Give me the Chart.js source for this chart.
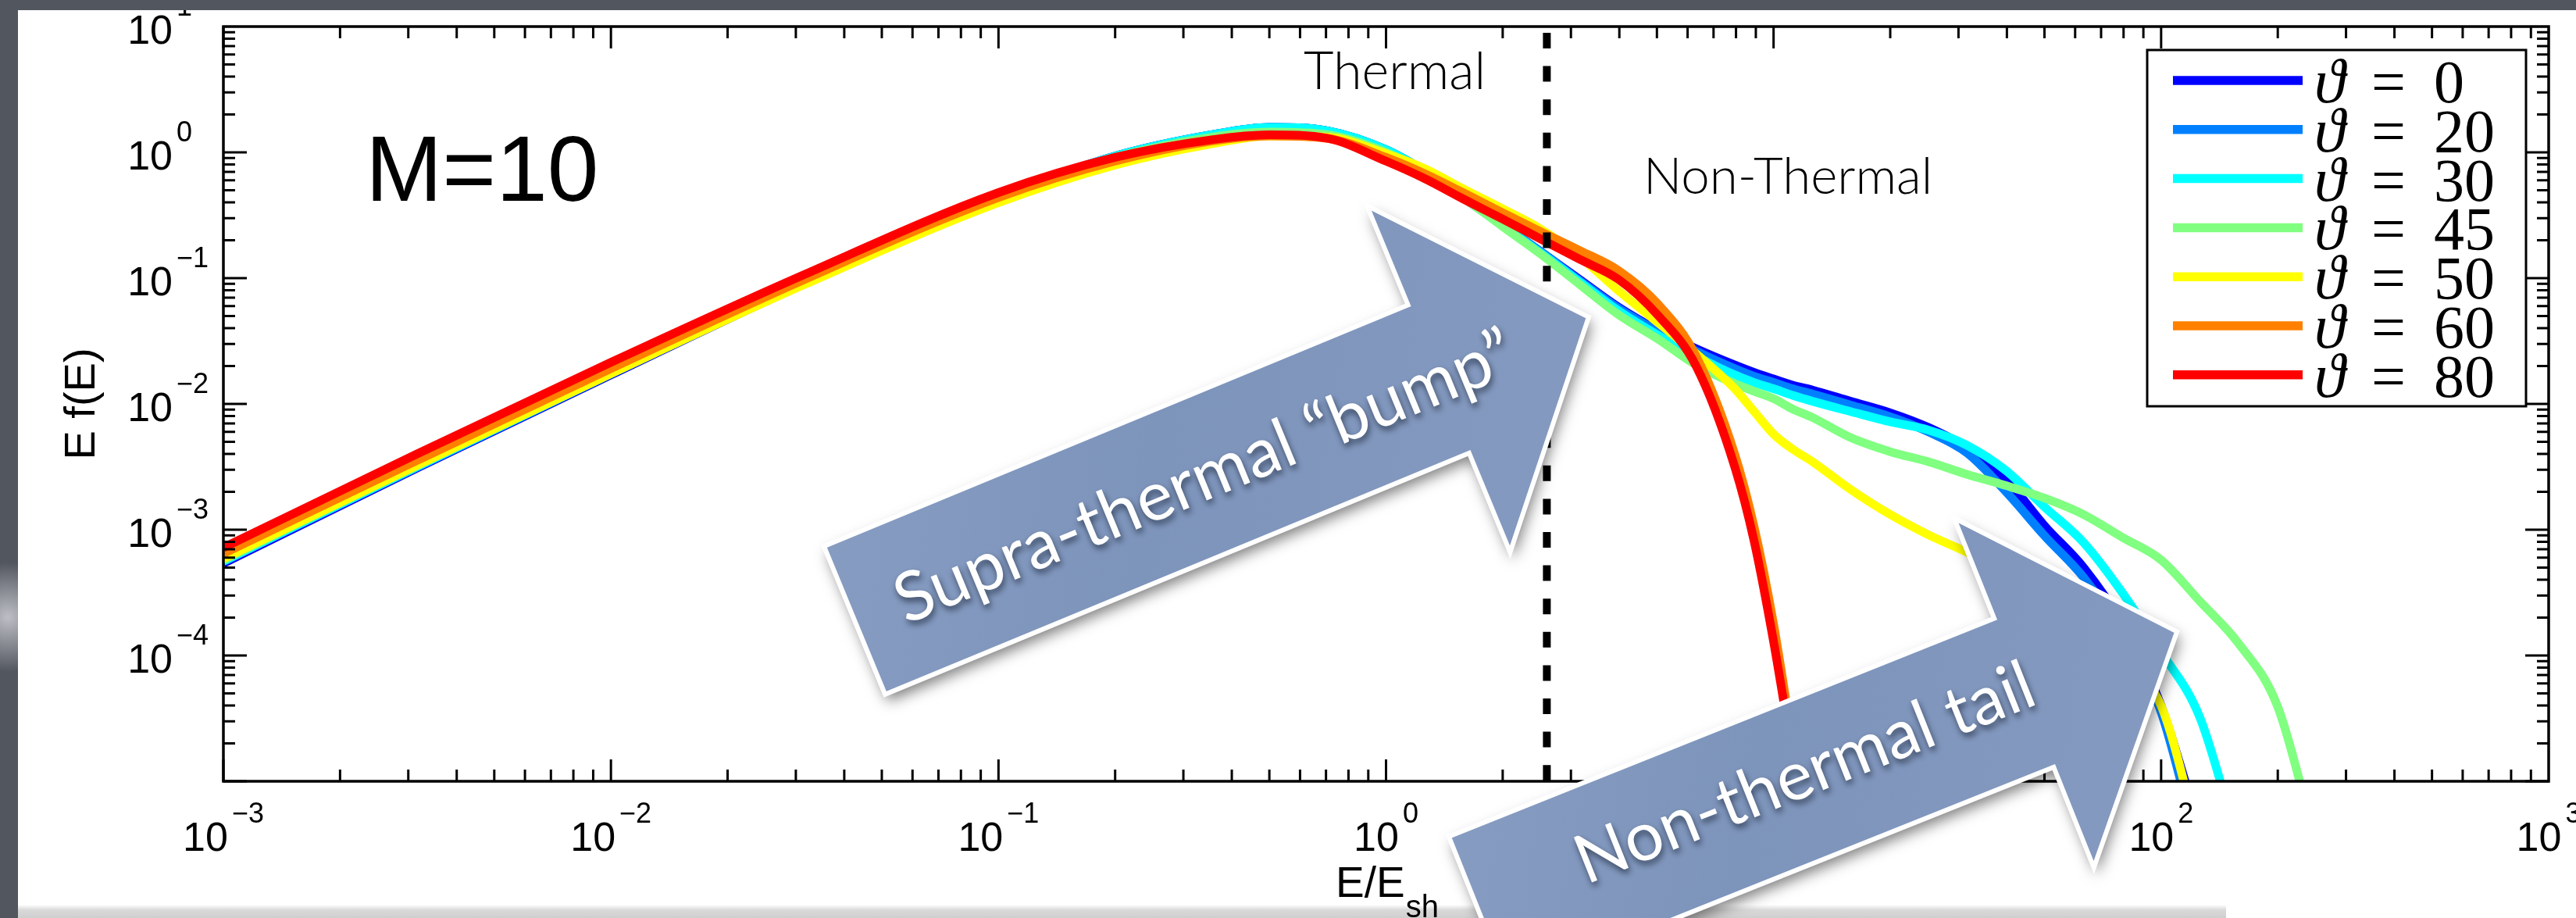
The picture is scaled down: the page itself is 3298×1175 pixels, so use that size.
<!DOCTYPE html>
<html>
<head>
<meta charset="utf-8">
<script src="https://cdn.jsdelivr.net/npm/chart.js@4/dist/chart.umd.min.js"></script>
<style>
  html, body { margin: 0; padding: 0; background: #51555f; }
  #wrap { position: relative; width: 3298px; height: 1175px; }
</style>
</head>
<body>
<div id="wrap"><canvas id="spectrum"></canvas></div>
<script>
// E/E_sh sample points shared by every curve
var energy = [0.001, 0.00316, 0.01, 0.0316, 0.1, 0.2, 0.355, 0.501, 0.708, 1, 1.26, 1.58, 2.0, 2.51, 3.16, 3.98, 5.01, 6.31, 7.94, 8.91,
              10, 11.2, 12.6, 15.8, 20, 25.1, 31.6, 39.8, 50.1, 63.1, 79.4, 100, 126, 158, 200, 251];

// E f(E) for each shock obliquity
var theta0  = [5.4e-4, 3.09e-3, 1.7e-2, 0.0912, 0.437, 0.933, 1.38, 1.58, 1.48, 1.05, 0.708, 0.437, 0.263, 0.162, 0.0977, 0.0589, 0.0389, 0.0275, 0.0204, 0.0178,
               0.0158, 0.0141, 0.0129, 0.0105, 8.5e-3, 6.5e-3, 4.47e-3, 2.51e-3, 1.07e-3, 5.0e-4, 1.78e-4, 3.98e-5, 4.0e-6, null, null, null];
var theta20 = [5.6e-4, 3.16e-3, 1.74e-2, 0.0912, 0.437, 0.933, 1.38, 1.58, 1.48, 1.05, 0.708, 0.437, 0.263, 0.162, 0.0955, 0.0575, 0.038, 0.0263, 0.0191, 0.0166,
               0.0148, 0.0132, 0.012, 9.8e-3, 7.9e-3, 6.0e-3, 4.07e-3, 2.0e-3, 8.9e-4, 4.17e-4, 1.51e-4, 3.55e-5, 2.5e-6, null, null, null];
var theta30 = [5.6e-4, 3.16e-3, 1.74e-2, 0.0912, 0.437, 0.933, 1.38, 1.58, 1.48, 1.05, 0.708, 0.437, 0.263, 0.158, 0.0933, 0.055, 0.0355, 0.024, 0.017, 0.0148,
               0.0132, 0.0117, 0.0105, 8.7e-3, 7.2e-3, 6.2e-3, 4.68e-3, 2.95e-3, 1.51e-3, 7.9e-4, 3.16e-4, 1.07e-4, 3.2e-5, 3.2e-6, null, null];
var theta45 = [5.75e-4, 3.24e-3, 1.78e-2, 0.0933, 0.437, 0.912, 1.32, 1.45, 1.38, 1.0, 0.692, 0.437, 0.257, 0.155, 0.0891, 0.0513, 0.0331, 0.0204, 0.0145, 0.0126,
               0.011, 9.1e-3, 7.8e-3, 5.4e-3, 4.17e-3, 3.47e-3, 2.75e-3, 2.24e-3, 1.78e-3, 1.32e-3, 8.7e-4, 5.75e-4, 2.69e-4, 1.26e-4, 3.9e-5, 3.2e-6];
var theta50 = [5.89e-4, 3.24e-3, 1.74e-2, 0.0891, 0.398, 0.794, 1.17, 1.35, 1.32, 0.977, 0.741, 0.513, 0.355, 0.245, 0.148, 0.0794, 0.0447, 0.0251, 0.0132, 8.7e-3,
               5.75e-3, 4.37e-3, 3.47e-3, 2.09e-3, 1.32e-3, 9.1e-4, 6.6e-4, 4.47e-4, 2.82e-4, 1.66e-4, 8.9e-5, 3.98e-5, 3.2e-6, null, null, null];
var theta60 = [6.46e-4, 3.55e-3, 1.91e-2, 0.0977, 0.437, 0.851, 1.23, 1.35, 1.29, 0.912, 0.676, 0.479, 0.331, 0.234, 0.166, 0.115, 0.0631, 0.024, 3.98e-3, 1.05e-3,
               1.78e-4, 2.0e-5, 2.0e-6, null, null, null, null, null, null, null, null, null, null, null, null, null];
var theta80 = [7.2e-4, 4.0e-3, 0.0214, 0.107, 0.479, 0.912, 1.26, 1.38, 1.29, 0.851, 0.617, 0.427, 0.295, 0.204, 0.141, 0.0977, 0.0513, 0.02, 3.16e-3, 8.1e-4,
               1.29e-4, 1.6e-5, 2.0e-6, null, null, null, null, null, null, null, null, null, null, null, null, null];

var angles = ['0', '20', '30', '45', '50', '60', '80'];
var thermalCut = 2.6;   // Thermal / Non-Thermal boundary, E/E_sh

var xTicks = [1e-3, 1e-2, 1e-1, 1, 10, 100, 1000];
var yTicks = [1e-4, 1e-3, 1e-2, 1e-1, 1, 10];

var colours = ['#0000ff', '#0080ff', '#00ffff', '#80ff80', '#ffff00', '#ff8000', '#ff0000'];
var series = [theta0, theta20, theta30, theta45, theta50, theta60, theta80];

var SANS = '"Liberation Sans", Arial, Helvetica, sans-serif';
var SERIF = '"Liberation Serif", "DejaVu Serif", serif';

var datasets = [];
for (var i = 0; i < series.length; i++) {
	datasets.push({
		label: 'ϑ = ' + angles[i],
		data: series[i],
		borderColor: colours[i],
		borderWidth: 11,
		pointRadius: 0,
		fill: false,
		cubicInterpolationMode: 'monotone',
		order: series.length - 1 - i
	});
}
datasets.push({
	label: '',
	data: [{x: thermalCut, y: 10}, {x: thermalCut, y: 1e-5}],
	borderColor: '#000',
	borderWidth: 10,
	borderDash: [20, 22.6],
	borderDashOffset: 34.6,
	pointRadius: 0,
	fill: false,
	order: -1
});

// slide background: dark frame, white panel, grey strip at the bottom
var backdrop = {
	id: 'backdrop',
	beforeDraw: function(chart) {
		var ctx = chart.ctx, w = chart.width, h = chart.height;
		ctx.save();
		ctx.fillStyle = '#52565f';
		ctx.fillRect(0, 0, w, h);
		var glow = ctx.createRadialGradient(10, 790, 0, 10, 790, 70);
		glow.addColorStop(0, 'rgba(235,235,240,0.7)');
		glow.addColorStop(1, 'rgba(235,235,240,0)');
		ctx.fillStyle = glow;
		ctx.fillRect(0, 700, 60, 180);
		ctx.fillStyle = '#ffffff';
		ctx.fillRect(23, 13, w - 23, h - 13);
		var g = ctx.createLinearGradient(0, 1158, 0, 1175);
		g.addColorStop(0, 'rgba(215,215,215,0)');
		g.addColorStop(0.4, '#d9d9d9');
		g.addColorStop(1, '#cfcfcf');
		ctx.fillStyle = g;
		ctx.fillRect(23, 1158, 2827, 17);
		ctx.restore();
	}
};

function drawPower(ctx, exp, x, y, expY, align) {
	var expTxt = exp < 0 ? '\u2212' + (-exp) : String(exp);
	ctx.textAlign = 'left';
	ctx.textBaseline = 'alphabetic';
	ctx.font = '52px ' + SANS;
	var bw = ctx.measureText('10').width;
	ctx.font = '36px ' + SANS;
	var ew = ctx.measureText(expTxt).width;
	var left;
	if (align === 'center') left = x - (bw + 5 + ew) / 2;
	else left = x - bw;
	ctx.font = '52px ' + SANS;
	ctx.fillText('10', left, y);
	ctx.font = '36px ' + SANS;
	ctx.fillText(expTxt, left + bw + 5, expY);
}

function fitText(ctx, txt, x, y, width, weight, family) {
	ctx.font = weight + ' 64px ' + family;
	var w = ctx.measureText(txt).width;
	var size = 64 * width / w;
	ctx.font = weight + ' ' + size.toFixed(1) + 'px ' + family;
	ctx.fillText(txt, x, y);
}

var axesAndText = {
	id: 'axesAndText',
	afterDatasetsDraw: function(chart) {
		var ctx = chart.ctx, a = chart.chartArea, xs = chart.scales.x, ys = chart.scales.y;
		ctx.save();
		ctx.beginPath();
		ctx.rect(23, 13, chart.width - 23, chart.height - 13);
		ctx.clip();
		ctx.fillStyle = '#000';
		ctx.strokeStyle = '#000';

		// minor and major ticks on all four sides
		ctx.lineWidth = 3;
		ctx.beginPath();
		var k, m, v, p, len;
		for (k = -3; k < 3; k++) {
			for (m = 1; m < 10; m++) {
				v = m * Math.pow(10, k);
				p = xs.getPixelForValue(v);
				len = m === 1 ? 28 : 15;
				ctx.moveTo(p, a.bottom); ctx.lineTo(p, a.bottom - len);
				ctx.moveTo(p, a.top); ctx.lineTo(p, a.top + len);
			}
		}
		for (k = -5; k < 1; k++) {
			for (m = 1; m < 10; m++) {
				v = m * Math.pow(10, k);
				p = ys.getPixelForValue(v);
				len = m === 1 ? 30 : 15;
				ctx.moveTo(a.left, p); ctx.lineTo(a.left + len, p);
				ctx.moveTo(a.right, p); ctx.lineTo(a.right - len, p);
			}
		}
		ctx.stroke();
		ctx.lineWidth = 3.5;
		ctx.strokeRect(a.left, a.top, a.right - a.left, a.bottom - a.top);

		// tick labels
		xTicks.forEach(function(t) {
			var e = Math.round(Math.log10(t));
			drawPower(ctx, e, xs.getPixelForValue(t), 1089, 1053, 'center');
		});
		yTicks.forEach(function(t) {
			var e = Math.round(Math.log10(t));
			var py = ys.getPixelForValue(t);
			drawPower(ctx, e, 221, py + 22, py - 14, 'right');
		});

		// axis titles
		ctx.textAlign = 'left';
		ctx.font = '55px ' + SANS;
		ctx.fillText('E/E', 1710, 1148);
		var ew = ctx.measureText('E/E').width;
		ctx.font = '40px ' + SANS;
		ctx.fillText('sh', 1710 + ew + 1, 1174);
		ctx.save();
		ctx.translate(121, (a.top + a.bottom) / 2);
		ctx.rotate(-Math.PI / 2);
		ctx.textAlign = 'center';
		ctx.font = '56px ' + SANS;
		ctx.fillText('E f(E)', 0, 0);
		ctx.restore();

		// annotations
		ctx.textAlign = 'left';
		ctx.font = '118px ' + SANS;
		ctx.fillText('M=10', 468, 257);
		fitText(ctx, 'Thermal', 1669, 114, 233, '300', 'Lato, "Open Sans", sans-serif');
		fitText(ctx, 'Non-Thermal', 2104, 248, 370, '300', 'Lato, "Open Sans", sans-serif');

		// legend
		var bx = 2749, by = 64, bw = 485, bh = 456;
		ctx.fillStyle = '#fff';
		ctx.fillRect(bx, by, bw, bh);
		ctx.lineWidth = 3;
		ctx.strokeRect(bx, by, bw, bh);
		for (var i = 0; i < angles.length; i++) {
			var ry = 103 + i * 62.8;
			ctx.strokeStyle = colours[i];
			ctx.lineWidth = 11.5;
			ctx.beginPath();
			ctx.moveTo(2782, ry); ctx.lineTo(2948, ry);
			ctx.stroke();
			ctx.fillStyle = '#000';
			ctx.textAlign = 'left';
			ctx.font = 'italic 80px ' + SERIF;
			ctx.fillText('ϑ', 2963, ry + 28);
			ctx.font = '78px ' + SERIF;
			ctx.fillText('=', 3036, ry + 28);
			ctx.fillText(angles[i], 3116, ry + 28);
		}
		ctx.restore();
	}
};

// the two block arrows pasted over the figure
var arrows = [
	{x: 1094, y: 794, angle: -22.44, len: 809, shaft: 205, head: 480, tip: 208, text: 'Supra-thermal \u201cbump\u201d', textAt: 484, textOff: 2, textWidth: 850},
	{x: 1893, y: 1166, angle: -21.8, len: 752, shaft: 205, head: 482, tip: 211, text: 'Non-thermal tail', textAt: 453, textOff: -8, textWidth: 625}
];

var overlay = {
	id: 'overlay',
	afterDraw: function(chart) {
		var ctx = chart.ctx;
		arrows.forEach(function(ar) {
			ctx.save();
			ctx.translate(ar.x, ar.y);
			ctx.rotate(ar.angle * Math.PI / 180);
			ctx.beginPath();
			ctx.moveTo(0, -ar.shaft / 2);
			ctx.lineTo(ar.len, -ar.shaft / 2);
			ctx.lineTo(ar.len, -ar.head / 2);
			ctx.lineTo(ar.len + ar.tip, 0);
			ctx.lineTo(ar.len, ar.head / 2);
			ctx.lineTo(ar.len, ar.shaft / 2);
			ctx.lineTo(0, ar.shaft / 2);
			ctx.closePath();
			ctx.lineJoin = 'miter';
			ctx.shadowColor = 'rgba(0,0,0,0.5)';
			ctx.shadowBlur = 18;
			ctx.shadowOffsetX = 4;
			ctx.shadowOffsetY = 9;
			var g = ctx.createLinearGradient(0, -ar.head / 2, ar.len, ar.head / 2);
			g.addColorStop(0, '#889dc2');
			g.addColorStop(0.5, '#7d94bb');
			g.addColorStop(1, '#8499bf');
			ctx.fillStyle = g;
			ctx.fill();
			ctx.shadowColor = 'rgba(0,0,0,0)';
			ctx.strokeStyle = '#ffffff';
			ctx.lineWidth = 6;
			ctx.stroke();

			ctx.shadowColor = 'rgba(30,40,60,0.75)';
			ctx.shadowBlur = 8;
			ctx.shadowOffsetX = 2;
			ctx.shadowOffsetY = 5;
			ctx.fillStyle = '#ffffff';
			ctx.textAlign = 'center';
			ctx.textBaseline = 'middle';
			ctx.font = '64px Lato, "Open Sans", sans-serif';
			var tw = ctx.measureText(ar.text).width;
			ctx.font = (64 * ar.textWidth / tw).toFixed(1) + 'px Lato, "Open Sans", sans-serif';
			ctx.fillText(ar.text, ar.textAt, ar.textOff);
			ctx.restore();
		});
	}
};

var ctx = document.getElementById('spectrum');
var chart = new Chart(ctx, {
	type: 'line',
	data: {
		labels: energy,
		datasets: datasets
	},
	options: {
		responsive: true,
		maintainAspectRatio: false,
		devicePixelRatio: 1,
		animation: false,
		layout: { padding: { left: 286, right: 35, top: 34, bottom: 175 } },
		scales: {
			x: { type: 'logarithmic', min: 1e-3, max: 1e3, display: false },
			y: { type: 'logarithmic', min: 1e-5, max: 10, display: false }
		},
		plugins: {
			legend: { display: false },
			tooltip: { enabled: false }
		}
	},
	plugins: [backdrop, axesAndText, overlay]
});
</script>
</body>
</html>
